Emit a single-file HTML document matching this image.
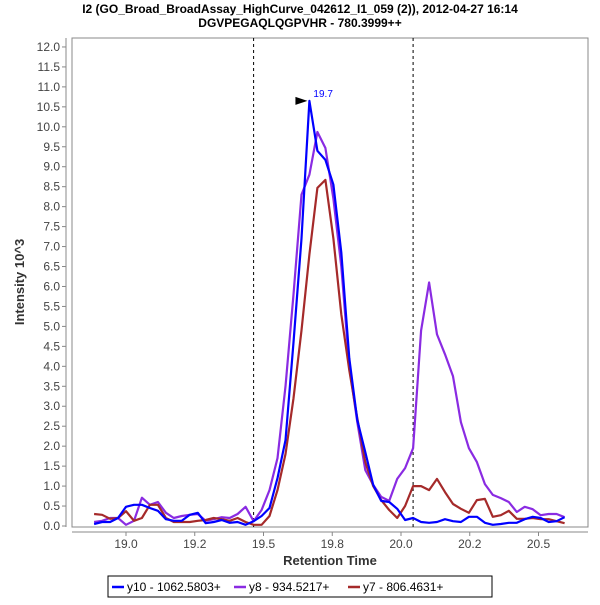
<!DOCTYPE html>
<html><head><meta charset="utf-8"><style>
body{margin:0;background:#fff;width:600px;height:600px;overflow:hidden;font-family:"Liberation Sans",sans-serif}
</style></head><body>
<svg id="chart" width="600" height="600" xmlns="http://www.w3.org/2000/svg" font-family="Liberation Sans, sans-serif">
<text x="300" y="13" text-anchor="middle" font-size="12" font-weight="bold">I2 (GO_Broad_BroadAssay_HighCurve_042612_I1_059 (2)), 2012-04-27 16:14</text>
<text x="300" y="27" text-anchor="middle" font-size="12" font-weight="bold">DGVPEGAQLQGPVHR - 780.3999++</text>
<rect x="72" y="38" width="516" height="489" fill="#fff" stroke="#888" stroke-width="1"/>
<g id="yaxis"></g>
<g id="xaxis"></g>
<g id="marks"></g>
<text transform="translate(24,282) rotate(-90)" text-anchor="middle" font-size="13" font-weight="bold" fill="#333">Intensity 10^3</text>
<text x="330" y="565" text-anchor="middle" font-size="13" font-weight="bold" fill="#333">Retention Time</text>
<g>
<rect x="108" y="576" width="384" height="21" fill="#fff" stroke="#000" stroke-width="1"/>
<line x1="112" y1="587" x2="124" y2="587" stroke="#0000ff" stroke-width="2.5"/>
<text x="127" y="591" font-size="12">y10 - 1062.5803+</text>
<line x1="234" y1="587" x2="246" y2="587" stroke="#8a2be2" stroke-width="2.5"/>
<text x="249" y="591" font-size="12">y8 - 934.5217+</text>
<line x1="348" y1="587" x2="360" y2="587" stroke="#a52a2a" stroke-width="2.5"/>
<text x="363" y="591" font-size="12">y7 - 806.4631+</text>
</g>
</svg>
<script>
const times=[18.884,18.913,18.942,18.971,19.000,19.029,19.058,19.087,19.116,19.145,19.174,19.203,19.232,19.261,19.290,19.319,19.348,19.377,19.406,19.435,19.464,19.493,19.522,19.551,19.580,19.609,19.638,19.667,19.696,19.725,19.754,19.783,19.812,19.841,19.870,19.899,19.928,19.957,19.986,20.015,20.044,20.073,20.102,20.131,20.160,20.189,20.218,20.247,20.276,20.305,20.334,20.363,20.392,20.421,20.450,20.479,20.508,20.537,20.566,20.595];
const y10=[0.05,0.1,0.1,0.2,0.48,0.53,0.53,0.45,0.38,0.17,0.13,0.13,0.28,0.33,0.07,0.1,0.15,0.08,0.1,0.03,0.12,0.25,0.45,1.2,2.15,4.6,7.2,10.65,9.4,9.17,8.55,6.85,4.2,2.65,1.85,1.03,0.63,0.6,0.43,0.15,0.2,0.1,0.08,0.1,0.17,0.12,0.1,0.23,0.23,0.08,0.03,0.05,0.08,0.08,0.17,0.23,0.2,0.1,0.12,0.22];
const y8=[0.1,0.13,0.2,0.2,0.03,0.13,0.71,0.53,0.6,0.33,0.2,0.25,0.28,0.3,0.13,0.17,0.22,0.2,0.3,0.48,0.12,0.4,0.9,1.7,3.5,5.8,8.3,8.8,9.87,9.47,8.2,6.5,4.0,2.6,1.4,1.03,0.73,0.63,1.18,1.45,1.95,4.9,6.1,4.8,4.3,3.75,2.6,1.95,1.6,1.05,0.78,0.7,0.6,0.35,0.48,0.42,0.27,0.3,0.3,0.22];
const y7=[0.3,0.28,0.18,0.2,0.37,0.13,0.2,0.53,0.53,0.2,0.1,0.1,0.1,0.13,0.15,0.2,0.17,0.13,0.2,0.1,0.03,0.03,0.25,0.9,1.8,3.2,4.9,6.8,8.47,8.67,7.2,5.3,3.9,2.7,1.6,1.0,0.65,0.4,0.2,0.5,1.0,1.0,0.9,1.18,0.85,0.55,0.43,0.33,0.65,0.68,0.23,0.27,0.38,0.18,0.18,0.2,0.17,0.17,0.12,0.07];
const yTicks=[0,0.5,1,1.5,2,2.5,3,3.5,4,4.5,5,5.5,6,6.5,7,7.5,8,8.5,9,9.5,10,10.5,11,11.5,12];
const xTicks=[19.0,19.25,19.5,19.75,20.0,20.25,20.5];
const xTickLabels=["19.0","19.2","19.5","19.8","20.0","20.2","20.5"];
const markers=[19.464,20.044];
const peakTime=19.667, peakValue=10.65, peakLabel="19.7";
const NS="http://www.w3.org/2000/svg";
const X=t=>126+(t-19.0)*275;
const Y=v=>526-v*39.92;
function mk(tag,attrs,parent){const e=document.createElementNS(NS,tag);for(const k in attrs)e.setAttribute(k,attrs[k]);parent.appendChild(e);return e;}
const ya=document.getElementById('yaxis'),xa=document.getElementById('xaxis'),m=document.getElementById('marks');
mk('line',{x1:66,y1:38,x2:66,y2:527,stroke:'#888'},ya);
yTicks.forEach(v=>{mk('line',{x1:62,y1:Y(v),x2:66,y2:Y(v),stroke:'#888'},ya);
const t=mk('text',{x:60,y:Y(v)+4,'text-anchor':'end','font-size':12,fill:'#444'},ya);t.textContent=v.toFixed(1);

});
mk('line',{x1:72,y1:532,x2:588,y2:532,stroke:'#888'},xa);
xTicks.forEach((v,i)=>{mk('line',{x1:X(v),y1:532,x2:X(v),y2:536,stroke:'#888'},xa);
const t=mk('text',{x:X(v),y:548,'text-anchor':'middle','font-size':12,fill:'#444'},xa);t.textContent=xTickLabels[i];

});
markers.forEach(v=>{const l=mk('line',{x1:X(v),y1:38,x2:X(v),y2:527,stroke:'#000','stroke-dasharray':'3,3'},m);

});
[[y8,'#8a2be2','series-y8'],[y7,'#a52a2a','series-y7'],[y10,'#0000ff','series-y10']].forEach(([d,c,n])=>{
const p=mk('polyline',{points:d.map((v,i)=>X(times[i]).toFixed(1)+','+Y(v).toFixed(1)).join(' '),fill:'none',stroke:c,'stroke-width':2.2,'stroke-linejoin':'round'},m);

});
const px=X(peakTime),py=Y(peakValue);
const ar=mk('polygon',{points:`${px-14},${py-4} ${px-2},${py} ${px-14},${py+4}`,fill:'#000'},m);


const pl=mk('text',{x:px+4,y:py-4,'font-size':10,fill:'#0000ff'},m);pl.textContent=peakLabel;


</script>
</body></html>
